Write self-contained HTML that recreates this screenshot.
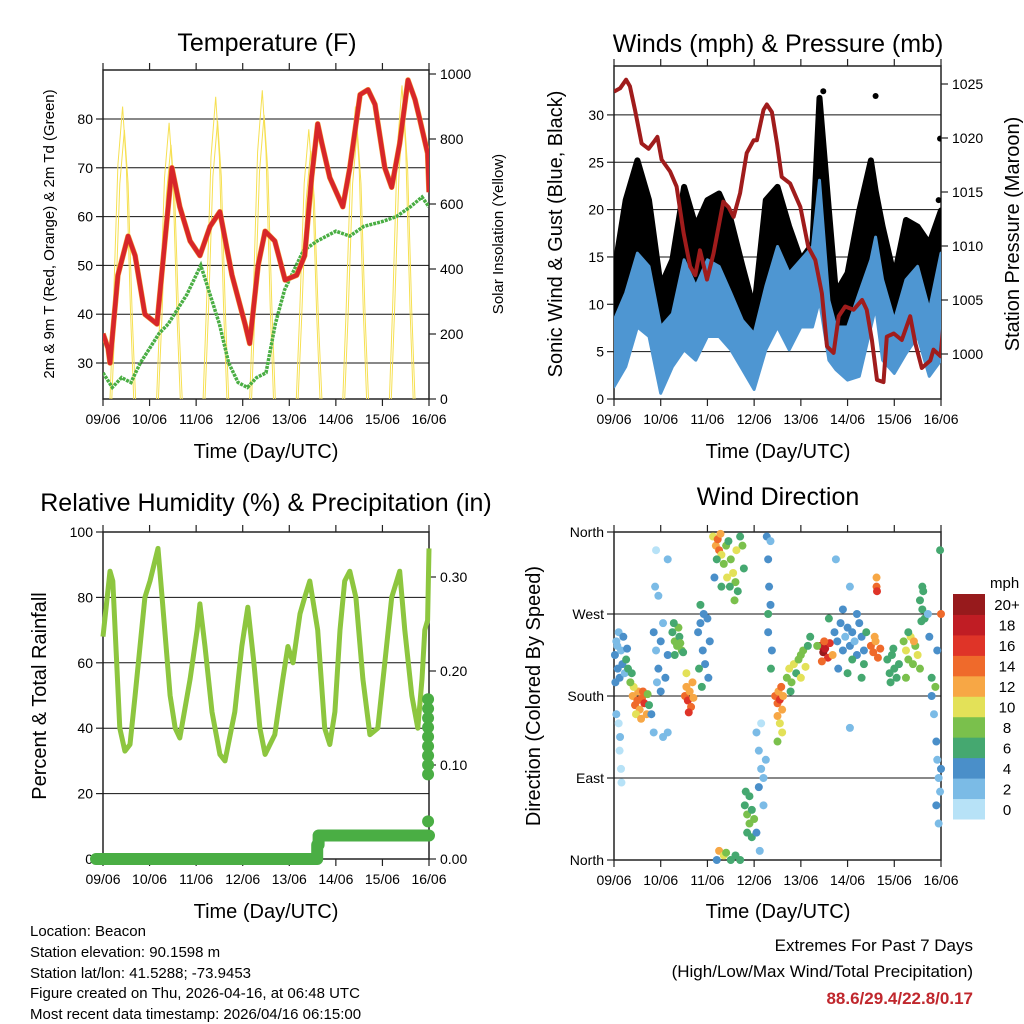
<!DOCTYPE html>
<html><head><meta charset="utf-8"><title>Station Meteogram</title>
<style>
html,body{margin:0;padding:0;background:#fff;}
svg{display:block;font-family:"Liberation Sans",Arial,sans-serif;}
</style></head>
<body>
<svg id="chart" width="1024" height="1024" viewBox="0 0 1024 1024" xmlns="http://www.w3.org/2000/svg">
<defs>
<clipPath id="c1"><rect x="103" y="70" width="326" height="329"/></clipPath>
<clipPath id="c2"><rect x="614" y="66" width="327" height="333"/></clipPath>
<clipPath id="c4"><rect x="610" y="526" width="335" height="340"/></clipPath>
</defs>
<text x="267" y="51" font-size="25" text-anchor="middle">Temperature (F)</text>
<text x="778" y="52" font-size="25" text-anchor="middle">Winds (mph) &amp; Pressure (mb)</text>
<text x="266" y="511" font-size="25" text-anchor="middle">Relative Humidity (%) &amp; Precipitation (in)</text>
<text x="778" y="505" font-size="25" text-anchor="middle">Wind Direction</text>
<text x="266" y="458" font-size="20" text-anchor="middle">Time (Day/UTC)</text>
<text x="778" y="458" font-size="20" text-anchor="middle">Time (Day/UTC)</text>
<text x="266" y="918" font-size="20" text-anchor="middle">Time (Day/UTC)</text>
<text x="778" y="918" font-size="20" text-anchor="middle">Time (Day/UTC)</text>
<text transform="translate(54,234) rotate(-90)" font-size="15" text-anchor="middle">2m &amp; 9m T (Red, Orange) &amp; 2m Td (Green)</text>
<text transform="translate(503,234) rotate(-90)" font-size="15" text-anchor="middle">Solar Insolation (Yellow)</text>
<text transform="translate(562,234) rotate(-90)" font-size="20" text-anchor="middle">Sonic Wind &amp; Gust (Blue, Black)</text>
<text transform="translate(1019,234) rotate(-90)" font-size="20" text-anchor="middle">Station Pressure (Maroon)</text>
<text transform="translate(46,696) rotate(-90)" font-size="20" text-anchor="middle">Percent &amp; Total Rainfall</text>
<text transform="translate(540,696) rotate(-90)" font-size="20" text-anchor="middle">Direction (Colored By Speed)</text>
<text x="990" y="588" font-size="15">mph</text>
<g font-size="15">
<text x="30" y="936">Location: Beacon</text>
<text x="30" y="957">Station elevation: 90.1598 m</text>
<text x="30" y="978">Station lat/lon: 41.5288; -73.9453</text>
<text x="30" y="998">Figure created on Thu, 2026-04-16, at 06:48 UTC</text>
<text x="30" y="1019">Most recent data timestamp: 2026/04/16 06:15:00</text>
</g>
<g text-anchor="end">
<text x="973" y="951" font-size="17">Extremes For Past 7 Days</text>
<text x="973" y="977" font-size="17">(High/Low/Max Wind/Total Precipitation)</text>
<text x="973" y="1004" font-size="17" font-weight="bold" fill="#c0272d">88.6/29.4/22.8/0.17</text>
</g>
</svg>
<script>
// ---------- DATA ----------
const dayLabels=["09/06","10/06","11/06","12/06","13/06","14/06","15/06","16/06"];
const tempTicks=[30,40,50,60,70,80];
const solarTicks=[0,200,400,600,800,1000];
const windTicks=[0,5,10,15,20,25,30];
const pressTicks=[1000,1005,1010,1015,1020,1025];
const rhTicks=[0,20,40,60,80,100];
const rainTicks=[0,0.1,0.2,0.3];
const rainTickLabels=["0.00","0.10","0.20","0.30"];
const dirTicks=[0,90,180,270,360];
const dirTickLabels=["North","East","South","West","North"];
const speedBins=["0","2","4","6","8","10","12","14","16","18","20+"];

const tempDays=[0,0.11,0.15,0.32,0.54,0.69,0.9,1.16,1.33,1.48,1.65,1.87,2.08,2.3,2.51,2.77,3.05,3.15,3.33,3.48,3.69,3.91,4.16,4.33,4.48,4.61,4.7,4.87,5.15,5.3,5.52,5.69,5.84,6.05,6.2,6.37,6.55,6.7,6.8,6.97,7.0];
const tempVals=[36,33,30,48,56,52,40,38,55,70,62,55,52,58,61,48,38,34,50,57,55,47,48,52,68,79,75,68,62,70,85,86,83,70,66,75,88,84,80,73,65];
const dewDays=[0,0.2,0.4,0.6,0.8,1.0,1.2,1.4,1.6,1.8,2.0,2.1,2.3,2.5,2.7,2.9,3.1,3.3,3.5,3.7,3.9,4.1,4.3,4.6,5.0,5.3,5.6,6.0,6.3,6.6,6.85,7.0];
const dewVals=[28,25,27,26,30,33,36,38,41,44,48,50,44,38,30,26,25,27,28,38,45,49,53,55,57,56,58,59,60,62,64,62];
const solarDays=[0,1,2,3,4,5,6];
const solarPeaks=[900,850,930,950,830,900,965];

const windDays=[0,0.25,0.5,0.75,1,1.25,1.5,1.75,2,2.25,2.5,2.75,3,3.25,3.5,3.75,4,4.25,4.4,4.6,4.75,5,5.25,5.5,5.6,5.75,6,6.25,6.5,6.75,7];
const windLo=[1.3,3.4,7.6,6.6,0.6,3.4,5.2,4.1,6.6,6.6,5.2,3.1,1.0,5.2,7.6,5.2,7.6,7.6,10.4,4.1,3.1,2.0,2.4,7.6,9.7,4.1,2.7,4.8,6.6,2.4,4.1];
const windHi=[8.3,11.2,15.4,14.0,7.6,9.0,14.7,11.9,14.7,14.0,11.2,8.3,6.9,11.9,16.1,13.3,14.7,16.1,23.1,10.4,7.6,7.6,11.2,14.7,17.1,12.6,8.3,12.6,14.0,9.4,15.4];
const gustLo=[4.1,5.9,11.9,9.4,4.1,7.6,11.9,6.9,10.4,12.9,10.4,7.6,4.1,11.2,12.9,9.0,9.4,10.4,16.4,7.6,5.9,4.8,7.6,12.9,12.0,10.4,5.9,9.4,10.4,7.6,11.2];
const gustHi=[13.3,21.0,25.2,21.0,11.9,14.7,22.4,18.2,21.0,21.7,18.9,14.0,9.4,21.0,22.4,18.2,14.7,16.4,31.8,19.9,11.2,13.3,19.9,25.2,22.0,18.2,12.9,18.9,18.2,16.4,19.9];
const gustOutDays=[4.48,5.6,6.98,6.9,6.95];
const gustOutVals=[32.5,32,27.5,16,21];
const pressDays=[0,0.13,0.26,0.34,0.45,0.59,0.74,0.88,0.93,1.02,1.2,1.34,1.49,1.63,1.74,1.84,1.99,2.13,2.34,2.45,2.56,2.7,2.84,2.99,3.06,3.2,3.27,3.38,3.49,3.59,3.77,3.99,4.16,4.31,4.45,4.56,4.7,4.81,4.95,5.13,5.31,5.41,5.52,5.63,5.77,5.84,5.99,6.16,6.34,6.45,6.59,6.77,6.84,6.99,7.06];
const pressVals=[1024.3,1024.6,1025.4,1024.8,1022.6,1019.5,1019.0,1019.8,1020.1,1018,1016.9,1015.5,1011.2,1008.1,1007.3,1009.6,1006.9,1009.3,1014.1,1013.6,1012.7,1014.9,1018.6,1019.8,1019.8,1022.6,1023.1,1022.4,1019.5,1016.4,1015.8,1013.6,1009.9,1008.7,1005.6,1000.7,1000.1,1003.5,1004.4,1004.1,1005,1004.1,1001.3,997.6,997.4,1001.6,1001.9,1001.3,1003.5,1001,998.7,999.4,1000.4,999.8,1003.1];

const rhDays=[0,0.15,0.21,0.36,0.47,0.58,0.69,0.9,1.01,1.18,1.27,1.44,1.55,1.65,1.87,2.02,2.08,2.19,2.34,2.51,2.62,2.83,2.98,3.11,3.24,3.37,3.48,3.69,3.86,3.97,4.08,4.23,4.33,4.44,4.61,4.76,4.87,4.98,5.09,5.19,5.3,5.43,5.58,5.73,5.9,6.05,6.2,6.37,6.48,6.63,6.76,6.85,6.91,6.97,7.0];
const rhVals=[68,88,85,40,33,35,50,80,85,95,80,50,40,37,55,70,78,65,45,32,30,45,65,77,60,40,32,38,55,65,60,75,80,85,70,40,35,45,70,85,88,80,55,38,40,60,80,88,70,50,40,55,70,73,95];
const rainDays=[-0.15,4.6,4.6,4.63,4.63,7.0];
const rainVals=[0,0,0.015,0.015,0.025,0.025];
const rainEndVals=[0.04,0.09,0.1,0.11,0.12,0.13,0.14,0.15,0.16,0.17];

const dirPts=[
[0.02,225,4],[0.05,240,3],[0.08,210,5],[0.1,250,2],[0.12,200,4],[0.15,230,3],[0.18,215,5],[0.2,245,4],[0.23,205,3],[0.26,220,6],[0.03,195,4],[0.07,235,2],[0.28,232,4],
[0.1,150,1],[0.13,135,2],[0.15,100,1],[0.16,85,0],[0.05,160,2],[0.12,120,1],
[0.4,180,13],[0.45,170,14],[0.5,175,15],[0.55,165,12],[0.6,178,14],[0.65,172,16],[0.7,160,13],[0.52,185,12],[0.47,160,11],[0.62,185,14],[0.58,155,12],[0.42,190,10],[0.72,182,8],[0.35,195,8],[0.38,205,7],[0.3,210,7],[0.75,170,6],
[0.85,250,4],[0.9,230,3],[0.95,210,5],[1.0,240,4],[1.05,260,3],[1.1,200,4],[1.15,225,5],[1.0,185,4],[0.92,195,3],[0.88,300,2],[0.9,340,1],[0.95,290,2],[1.15,330,3],[1.05,135,2],[1.15,140,3],[0.8,160,4],[0.85,140,3],
[1.25,250,7],[1.3,240,8],[1.35,235,8],[1.4,245,7],[1.45,230,8],[1.3,225,7],[1.38,255,8],[1.28,260,7],[1.42,238,8],[1.48,228,7],
[1.52,180,14],[1.58,175,16],[1.62,185,13],[1.65,168,15],[1.55,190,12],[1.6,162,16],[1.7,178,12],[1.55,205,10],[1.68,195,12],
[1.8,250,4],[1.85,260,5],[1.9,230,4],[1.95,215,5],[2.0,265,4],[2.05,240,5],[1.82,210,7],[1.88,190,6],[1.92,270,4],[1.85,280,7],[2.02,200,5],
[2.12,355,10],[2.18,345,12],[2.22,352,14],[2.25,340,15],[2.3,335,10],[2.35,325,9],[2.4,345,8],[2.45,350,7],[2.5,330,8],[2.55,315,10],[2.6,305,8],[2.65,295,7],[2.7,355,7],[2.75,345,8],[2.78,320,7],[2.2,330,7],[2.28,358,13],[2.42,310,11],[2.48,300,7],[2.58,285,8],[2.62,340,10],[2.15,310,4],[2.3,300,6],
[2.2,0,4],[2.25,10,12],[2.35,5,10],[2.4,8,9],[2.5,0,6],[2.6,5,7],[2.7,0,6],
[2.8,60,7],[2.85,50,8],[2.9,40,8],[2.95,55,7],[2.9,70,6],[2.85,30,7],[3.0,45,8],[2.82,75,6],[2.95,25,6],
[3.05,140,2],[3.1,120,3],[3.15,100,2],[3.2,90,3],[3.25,110,2],[3.1,80,4],[3.2,60,2],[3.15,150,1],[3.05,30,4],[3.12,10,2],
[3.27,355,4],[3.3,330,4],[3.32,300,4],[3.35,280,5],[3.3,250,4],[3.38,230,4],[3.35,350,3],[3.3,270,6],[3.36,210,6],
[3.45,180,14],[3.5,172,15],[3.55,176,16],[3.6,165,13],[3.52,185,12],[3.58,190,14],[3.5,158,12],[3.62,180,12],[3.55,150,10],[3.6,140,10],[3.5,130,8],
[3.7,200,8],[3.75,210,10],[3.8,195,9],[3.85,215,10],[3.9,205,6],[3.95,220,8],[4.0,225,9],[4.05,230,8],[4.1,212,10],[4.15,235,6],[4.2,245,7],[3.78,185,7],[4.0,200,10],
[4.42,235,18],[4.48,228,20],[4.52,232,19],[4.58,222,17],[4.62,238,16],[4.5,240,14],[4.45,218,15],[4.68,225,12],[4.35,235,8],
[4.72,250,4],[4.78,240,5],[4.85,260,4],[4.9,230,4],[4.95,245,3],[5.0,255,4],[5.05,235,5],[5.1,250,4],[5.15,240,3],[5.2,225,5],[5.25,260,4],[5.3,245,5],[5.35,230,4],[5.4,250,6],[4.8,210,4],[5.0,205,6],[5.1,220,6],[4.9,275,4],[5.2,270,5],[5.35,215,6],[4.75,330,3],[5.05,300,2],[5.05,145,2],[5.3,200,7],[4.6,265,6],
[5.5,235,14],[5.55,228,15],[5.6,240,13],[5.65,222,14],[5.7,232,15],[5.58,245,12],[5.62,300,14],[5.63,295,16],[5.62,310,12],
[5.85,220,6],[5.9,205,6],[5.95,225,6],[6.0,210,6],[6.05,200,6],[6.1,215,6],[5.92,195,6],[5.98,232,7],
[6.2,240,9],[6.25,230,10],[6.3,220,8],[6.35,245,10],[6.4,215,9],[6.45,235,8],[6.5,225,10],[6.55,210,8],[6.3,250,7],[6.42,240,12],[6.25,200,8],
[6.55,285,7],[6.6,275,6],[6.62,295,7],[6.65,265,7],[6.58,262,6],[6.6,300,6],
[6.72,270,3],[6.75,245,4],[6.8,180,4],[6.85,160,3],[6.9,130,4],[6.92,110,2],[6.95,90,2],[6.98,75,3],[7.0,100,4],[6.88,190,8],[6.8,200,7],[6.9,60,4],[6.95,40,3],[7.0,270,14],[6.98,340,7],[6.92,230,4]
];
const dirDays=dirPts.map(p=>p[0]);
const dirDegs=dirPts.map(p=>p[1]);
const dirSpeeds=dirPts.map(p=>p[2]);

// ---------- STYLE ----------
const speedColors=["#b7e2f7","#7bbbe6","#4a8fc9","#45a870","#7ac04c","#e3e158","#f7a745","#ef6a2b","#df3428","#c01d24","#971a1c"];
const NS="http://www.w3.org/2000/svg";
const svg=document.getElementById('chart');
function mk(tag,attrs,parent){const e=document.createElementNS(NS,tag);for(const k in attrs)e.setAttribute(k,attrs[k]);(parent||svg).appendChild(e);return e;}

const P1={x0:103,x1:429,y0:70,y1:399};
const P2={x0:614,x1:941,y0:66,y1:399};
const P3={x0:103,x1:429,y0:532,y1:859};
const P4={x0:614,x1:941,y0:532,y1:860};
function xDay(p,d){return p.x0+d/7*(p.x1-p.x0);}
const yTemp=v=>363-(v-30)*4.88;
const ySolar=v=>399-v*0.325;
const yWind=v=>399-v*9.47;
const yPress=v=>354-(v-1000)*10.8;
const yRH=v=>859-v*3.27;
const yRain=v=>859-v*940;
const yDir=v=>860-v*(328/360);

function gridAndFrame(p,name){
  const g=mk('g',{});
  
  
  const r=mk('rect',{x:p.x0,y:p.y0,width:p.x1-p.x0,height:p.y1-p.y0,fill:'none',stroke:'#222','stroke-width':1.5},g);
  
  
  for(let i=0;i<dayLabels.length;i++){
    const x=xDay(p,i);
    const t=mk('line',{x1:x,x2:x,y1:p.y1,y2:p.y1+7,stroke:'#222','stroke-width':1.2},g);
    
    
    const t2=mk('line',{x1:x,x2:x,y1:p.y0,y2:p.y0-7,stroke:'#222','stroke-width':1.2},g);
    
    
    const lb=mk('text',{x:x,y:p.y1+25,'font-size':14,'text-anchor':'middle'},g);
    lb.textContent=dayLabels[i];
    
    
  }
  return g;
}
function hGrid(p,ys,name,g){
  ys.forEach(y=>{
    const l=mk('line',{x1:p.x0,x2:p.x1,y1:y,y2:y,stroke:'#111','stroke-width':1},g);
    
    
  });
}
function yAxis(p,vals,labels,yf,side,name,g){
  vals.forEach((v,i)=>{
    const y=yf(v);
    const x=side==='left'?p.x0:p.x1;
    const d=side==='left'?-7:7;
    const t=mk('line',{x1:x,x2:x+d,y1:y,y2:y,stroke:'#222','stroke-width':1.2},g);
    
    
    const lb=mk('text',{x:side==='left'?p.x0-10:p.x1+11,y:y+5,'font-size':14,'text-anchor':side==='left'?'end':'start'},g);
    lb.textContent=labels[i];
    
    
  });
}
function pathFrom(xs,ys){return xs.map((x,i)=>(i?'L':'M')+x.toFixed(1)+','+ys[i].toFixed(1)).join(' ');}

// ---------- PANEL 1 ----------
let g1=gridAndFrame(P1,'temperature');
hGrid(P1,tempTicks.map(yTemp),'temperature',g1);
yAxis(P1,tempTicks,tempTicks.map(String),yTemp,'left','temp-y-axis',g1);
yAxis(P1,solarTicks,solarTicks.map(String),ySolar,'right','solar-y-axis',g1);
const c1=mk('g',{'clip-path':'url(#c1)'});


const prof=[[-0.27,0],[-0.2,0.3],[-0.1,0.8],[0,1],[0.08,0.8],[0.17,0.3],[0.24,0]];
solarDays.forEach((d,i)=>{
  [0,0.04].forEach(off=>{
    const xs=prof.map(q=>xDay(P1,d+0.42+off+q[0]));
    const ys=prof.map(q=>ySolar(solarPeaks[i]*q[1]*(off?0.92:1)));
    const s=mk('path',{d:pathFrom(xs,ys),fill:'none',stroke:'#f6e052','stroke-width':1},c1);
    
    
  });
});
const dew=mk('path',{d:pathFrom(dewDays.map(d=>xDay(P1,d)),dewVals.map(yTemp)),fill:'none',stroke:'#4aae44','stroke-width':3.5,'stroke-dasharray':'3 1'},c1);


const t9=mk('path',{d:pathFrom(tempDays.map(d=>xDay(P1,d)),tempVals.map(yTemp)),fill:'none',stroke:'#f39a36','stroke-width':5.5,'stroke-linejoin':'round'},c1);


const t2=mk('path',{d:pathFrom(tempDays.map(d=>xDay(P1,d)),tempVals.map(yTemp)),fill:'none',stroke:'#d7262a','stroke-width':4.5,'stroke-linejoin':'round'},c1);



// ---------- PANEL 2 ----------
let g2=gridAndFrame(P2,'winds');
hGrid(P2,windTicks.slice(1).map(yWind),'winds',g2);
yAxis(P2,windTicks,windTicks.map(String),yWind,'left','wind-y-axis',g2);
yAxis(P2,pressTicks,pressTicks.map(String),yPress,'right','pressure-y-axis',g2);
const c2=mk('g',{'clip-path':'url(#c2)'});


const wx=windDays.map(d=>xDay(P2,d));
const gb=mk('path',{d:pathFrom(wx,gustHi.map(yWind))+' '+pathFrom(wx.slice().reverse(),gustLo.map(yWind).reverse()).replace('M','L')+' Z',fill:'#000',stroke:'#000','stroke-width':6,'stroke-linejoin':'round'},c2);


gustOutDays.forEach((d,i)=>{
  const c=mk('circle',{cx:xDay(P2,d),cy:yWind(gustOutVals[i]),r:3,fill:'#000'},c2);
  
  
});
const wb=mk('path',{d:pathFrom(wx,windHi.map(yWind))+' '+pathFrom(wx.slice().reverse(),windLo.map(yWind).reverse()).replace('M','L')+' Z',fill:'#4e96d2',stroke:'#4e96d2','stroke-width':3,'stroke-linejoin':'round'},c2);


const pl=mk('path',{d:pathFrom(pressDays.map(d=>xDay(P2,d)),pressVals.map(yPress)),fill:'none',stroke:'#a01c1c','stroke-width':4,'stroke-linejoin':'round'},c2);



// ---------- PANEL 3 ----------
let g3=gridAndFrame(P3,'humidity');
hGrid(P3,rhTicks.slice(1,5).map(yRH),'humidity',g3);
yAxis(P3,rhTicks,rhTicks.map(String),yRH,'left','rh-y-axis',g3);
yAxis(P3,rainTicks,rainTickLabels,yRain,'right','rain-y-axis',g3);
const rh=mk('path',{d:pathFrom(rhDays.map(d=>xDay(P3,d)),rhVals.map(yRH)),fill:'none',stroke:'#8dc63f','stroke-width':5,'stroke-linejoin':'round'},g3);


const rl=mk('path',{d:pathFrom(rainDays.map(d=>xDay(P3,d)),rainVals.map(yRain)),fill:'none',stroke:'#4aae44','stroke-width':12,'stroke-linecap':'round','stroke-linejoin':'round'},g3);


rainEndVals.forEach(v=>{
  const c=mk('circle',{cx:xDay(P3,6.98),cy:yRain(v),r:6,fill:'#4aae44'},g3);
  
  
});

// ---------- PANEL 4 ----------
let g4=gridAndFrame(P4,'direction');
hGrid(P4,[90,180,270].map(yDir),'direction',g4);
yAxis(P4,dirTicks,dirTickLabels,yDir,'left','direction-y-axis',g4);
const c4=mk('g',{'clip-path':'url(#c4)'});


dirDays.forEach((d,i)=>{
  const idx=Math.min(10,Math.floor(dirSpeeds[i]/2));
  const c=mk('circle',{cx:xDay(P4,d),cy:yDir(dirDegs[i]),r:4,fill:speedColors[idx]},c4);
  
  
});
// colorbar
const cb=mk('g',{});


const bh=225/11;
speedBins.forEach((lab,i)=>{
  const y=594+(10-i)*bh;
  const r=mk('rect',{x:953,y:y,width:32,height:bh+0.5,fill:speedColors[i]},cb);
  
  
  const t=mk('text',{x:1007,y:y+bh/2+6,'font-size':15,'text-anchor':'middle'},cb);
  t.textContent=lab;
  
  
});
</script>
</body></html>
